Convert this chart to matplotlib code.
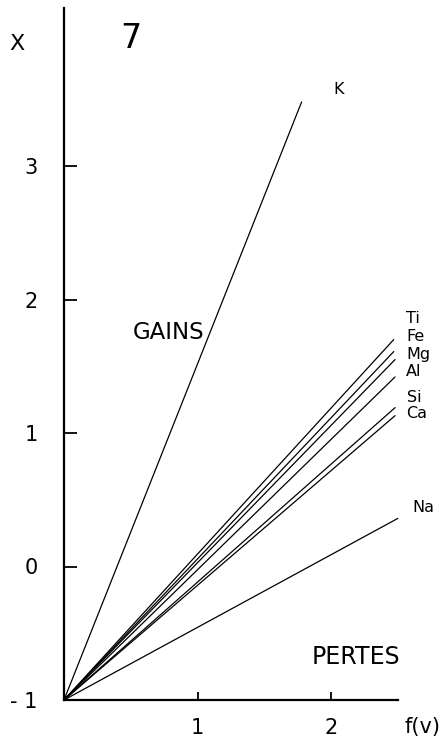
"""Gains / pertes diagram: X versus f(v) for each element (figure 7)."""

import matplotlib

matplotlib.use("Agg")

import matplotlib.pyplot as plt

# values: every line starts at (0, -1)
elements = ["K", "Ti", "Fe", "Mg", "Al", "Si", "Ca", "Na"]
end_x = [1.78, 2.47, 2.47, 2.48, 2.48, 2.48, 2.48, 2.50]
end_y = [3.48, 1.70, 1.61, 1.55, 1.42, 1.19, 1.13, 0.36]
start = (0.0, -1.0)

y_ticks = [-1, 0, 1, 2, 3]
y_tick_labels = ["- 1", "0", "1", "2", "3"]
x_ticks = [1, 2]
x_tick_labels = ["1", "2"]

# label positions in pixels (x, y from top)
label_pos = {
    "K": (333, 89),
    "Ti": (406, 319),
    "Fe": (406, 337),
    "Mg": (406, 354),
    "Al": (406, 372),
    "Si": (407, 398),
    "Ca": (406, 414),
    "Na": (412, 508),
}

W, H = 448, 744
fig = plt.figure(figsize=(W / 100, H / 100), dpi=100)
ax = fig.add_axes([0, 0, 1, 1])

# pixel mapping: origin (0,-1) at (64, 700), 133.5 px per unit
ox, oy, unit = 64, 700, 133.5
ax.set_xlim(-ox / unit, (W - ox) / unit)
ax.set_ylim(-1 - (H - oy) / unit, -1 + oy / unit)

for name, xe, ye in zip(elements, end_x, end_y):
    ax.plot([start[0], xe], [start[1], ye], color="black", lw=0.9, solid_capstyle="round")

for side in ["top", "right"]:
    ax.spines[side].set_visible(False)
ax.spines["left"].set_position(("data", 0))
ax.spines["bottom"].set_position(("data", -1))
ax.spines["left"].set_bounds(-1, 4.18)
ax.spines["bottom"].set_bounds(0, 2.50)
ax.spines["left"].set_linewidth(1.6)
ax.spines["bottom"].set_linewidth(1.6)

ax.set_yticks(y_ticks)
ax.set_yticklabels(y_tick_labels)
ax.set_xticks(x_ticks)
ax.set_xticklabels(x_tick_labels)
ax.tick_params(axis="y", direction="in", length=9.5, width=1.3, pad=19, labelsize=15)
ax.tick_params(axis="x", direction="in", length=6, width=1.3, pad=13, labelsize=15)
ax.yaxis.get_major_ticks()[0].tick1line.set_visible(False)


def put(text, px, py, size, ha="center"):
    fig.text(px / W, 1 - py / H, text, fontsize=size, ha=ha, va="center")


for name in elements:
    px, py = label_pos[name]
    put(name, px, py, 11.5, ha="left")

put("X", 17, 44, 16)
put("7", 131, 39, 24)
put("GAINS", 169, 332, 16.5)
put("PERTES", 356, 657, 17)
put("f(v)", 422, 727, 15)

fig.savefig("out.png", dpi=100)
plt.close(fig)
